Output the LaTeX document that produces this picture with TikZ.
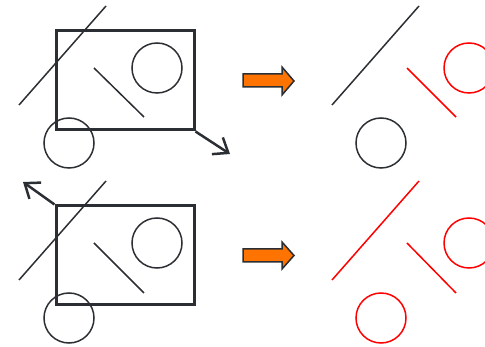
\documentclass[tikz,border=0pt]{standalone}
\usetikzlibrary{arrows.meta}
\definecolor{ink}{HTML}{2B2F33}
\definecolor{orng}{HTML}{FF7300}
\tikzset{
  thinline/.style={draw=ink,line width=1.5pt},
  redline/.style={draw=red,line width=1.5pt},
  ring/.style={circle,draw=ink,line width=1.5pt,minimum size=50pt,inner sep=0pt},
  redring/.style={circle,draw=red,line width=1.5pt,minimum size=50pt,inner sep=0pt},
  frame/.style={rectangle,draw=ink,line width=3pt,minimum width=138pt,minimum height=99pt,inner sep=0pt},
  movearrow/.style={draw=ink,line width=2.5pt,-{Straight Barb[length=13pt,width=20pt]}},
  bigarrow/.style={fill=orng,draw=ink,line width=1.5pt,line join=miter}
}
\begin{document}
\begin{tikzpicture}[x=1pt,y=-1pt]
\useasboundingbox (0,0) rectangle (485,347);
\clip (0,0) rectangle (485,347);
% top-left
\node[frame] (r1) at (125,80.5) {};
\coordinate (d1a) at (19,105); \coordinate (d1b) at (106,6);
\draw[thinline] (d1a) -- (d1b);
\coordinate (s1a) at (94,68); \coordinate (s1b) at (144,117);
\draw[thinline] (s1a) -- (s1b);
\node[ring] (c1a) at (157,68) {};
\node[ring] (c1b) at (69,143) {};
\coordinate (m1) at (230,154);
\draw[movearrow] (r1.south east) -- (m1);
% bottom-left
\node[frame] (r2) at (125,255.5) {};
\coordinate (d2a) at (19,280); \coordinate (d2b) at (106,181);
\draw[thinline] (d2a) -- (d2b);
\coordinate (s2a) at (94,243); \coordinate (s2b) at (144,293);
\draw[thinline] (s2a) -- (s2b);
\node[ring] (c2a) at (157,243) {};
\node[ring] (c2b) at (69,318) {};
\coordinate (m2) at (23,182);
\draw[movearrow] (r2.north west) -- (m2);
% orange arrows
\draw[bigarrow] (243,74) -- (282,74) -- (282,67) -- (294,81) -- (282,95) -- (282,87) -- (243,87) -- cycle;
\draw[bigarrow] (243,249) -- (282,249) -- (282,242) -- (294,255.5) -- (282,269) -- (282,262) -- (243,262) -- cycle;
% top-right
\coordinate (d3a) at (332,105); \coordinate (d3b) at (419,6);
\draw[thinline] (d3a) -- (d3b);
\coordinate (s3a) at (407,68); \coordinate (s3b) at (456,117);
\draw[redline] (s3a) -- (s3b);
\node[redring] (c3a) at (469,68) {};
\node[ring] (c3b) at (381,143) {};
% bottom-right
\coordinate (d4a) at (332,280); \coordinate (d4b) at (419,181);
\draw[redline] (d4a) -- (d4b);
\coordinate (s4a) at (407,243); \coordinate (s4b) at (456,293);
\draw[redline] (s4a) -- (s4b);
\node[redring] (c4a) at (469,243) {};
\node[redring] (c4b) at (381,318) {};
\end{tikzpicture}
\end{document}
